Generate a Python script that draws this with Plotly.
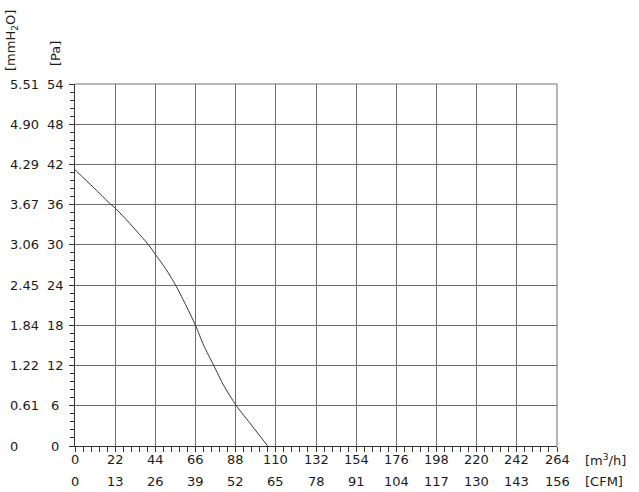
import plotly.graph_objects as go

# Airflow (m3/h) and static pressure (Pa)
flow_m3h = [0, 10, 19.8, 22, 30, 40.3, 44, 50, 55.1, 60, 66, 70.5, 76, 81.5, 88.4, 97, 105.5]
press_pa = [41.2, 38.6, 36, 35.5, 33.2, 30, 28.6, 26.3, 24, 21.4, 18, 15, 12, 9, 6, 3, 0]

x_ticks_m3h = [0, 22, 44, 66, 88, 110, 132, 154, 176, 198, 220, 242, 264]
x_ticks_cfm = ["0", "13", "26", "39", "52", "65", "78", "91", "104", "117", "130", "143", "156"]
y_ticks_pa = [0, 6, 12, 18, 24, 30, 36, 42, 48, 54]
y_ticks_mmh2o = ["0", "0.61", "1.22", "1.84", "2.45", "3.06", "3.67", "4.29", "4.90", "5.51"]

FONT = "DejaVu Sans"
TXT = "#1a1a1a"
fs = 13

fig = go.Figure()
fig.add_trace(go.Scatter(
    x=flow_m3h, y=press_pa, mode="lines",
    line=dict(color="#333333", width=1, shape="spline", smoothing=0.6),
    hoverinfo="skip", showlegend=False,
))

ann = []
for v, c in zip(x_ticks_m3h, x_ticks_cfm):
    ann.append(dict(x=v, xref="x", y=0, yref="paper", text=str(v), showarrow=False,
                    xanchor="center", yanchor="middle", yshift=-13.5,
                    font=dict(family=FONT, size=fs, color=TXT)))
    ann.append(dict(x=v, xref="x", y=0, yref="paper", text=c, showarrow=False,
                    xanchor="center", yanchor="middle", yshift=-35.5,
                    font=dict(family=FONT, size=fs, color=TXT)))
for v, m in zip(y_ticks_pa, y_ticks_mmh2o):
    ann.append(dict(x=0, xref="paper", y=v, yref="y", text=str(v), showarrow=False,
                    xanchor="center", yanchor="middle", xshift=-20,
                    font=dict(family=FONT, size=fs, color=TXT)))
    ann.append(dict(x=0, xref="paper", y=v, yref="y", text=m, showarrow=False,
                    xanchor="left", yanchor="middle", xshift=-67,
                    font=dict(family=FONT, size=fs, color=TXT)))

ann.append(dict(x=1, xref="paper", y=0, yref="paper", text="[m<sup>3</sup>/h]", showarrow=False,
                xanchor="left", yanchor="middle", xshift=26, yshift=-13.5,
                font=dict(family=FONT, size=fs, color=TXT)))
ann.append(dict(x=1, xref="paper", y=0, yref="paper", text="[CFM]", showarrow=False,
                xanchor="left", yanchor="middle", xshift=26, yshift=-35.5,
                font=dict(family=FONT, size=fs, color=TXT)))
ann.append(dict(x=0, xref="paper", y=1, yref="paper", text="[mmH<sub>2</sub>O]", showarrow=False,
                textangle=-90, xanchor="center", yanchor="middle", xshift=-64, yshift=43,
                font=dict(family=FONT, size=fs, color=TXT)))
ann.append(dict(x=0, xref="paper", y=1, yref="paper", text="[Pa]", showarrow=False,
                textangle=-90, xanchor="center", yanchor="middle", xshift=-20, yshift=30,
                font=dict(family=FONT, size=fs, color=TXT)))

fig.update_layout(
    width=639, height=492,
    margin=dict(l=75, r=82, t=84, b=46),
    paper_bgcolor="white", plot_bgcolor="white",
    annotations=ann,
    showlegend=False,
)
fig.update_xaxes(
    range=[0, 264], tickvals=x_ticks_m3h, showticklabels=False,
    showgrid=True, gridcolor="#6e6e6e", gridwidth=1,
    showline=True, linecolor="#333333", linewidth=1, mirror=False,
    ticks="outside", ticklen=5, tickcolor="#333333",
    minor=dict(dtick=4.4, ticks="outside", ticklen=5, tickcolor="#333333", showgrid=False),
    zeroline=False, fixedrange=True,
)
fig.update_yaxes(
    range=[0, 54], tickvals=y_ticks_pa, showticklabels=False,
    showgrid=True, gridcolor="#6e6e6e", gridwidth=1,
    showline=True, linecolor="#333333", linewidth=1,
    ticks="outside", ticklen=5, tickcolor="#333333",
    minor=dict(dtick=1.2, ticks="outside", ticklen=4, tickcolor="#333333", showgrid=False),
    zeroline=False, fixedrange=True,
)
fig.add_shape(type="line", xref="paper", yref="paper", x0=1, x1=1, y0=0, y1=1,
              line=dict(color="#6e6e6e", width=1))
fig.add_shape(type="line", xref="paper", yref="paper", x0=0, x1=1, y0=1, y1=1,
              line=dict(color="#6e6e6e", width=1))

fig.write_html("out.html", config={"displayModeBar": False},
               post_script="document.body.style.margin='0';document.body.style.overflow='hidden';")
